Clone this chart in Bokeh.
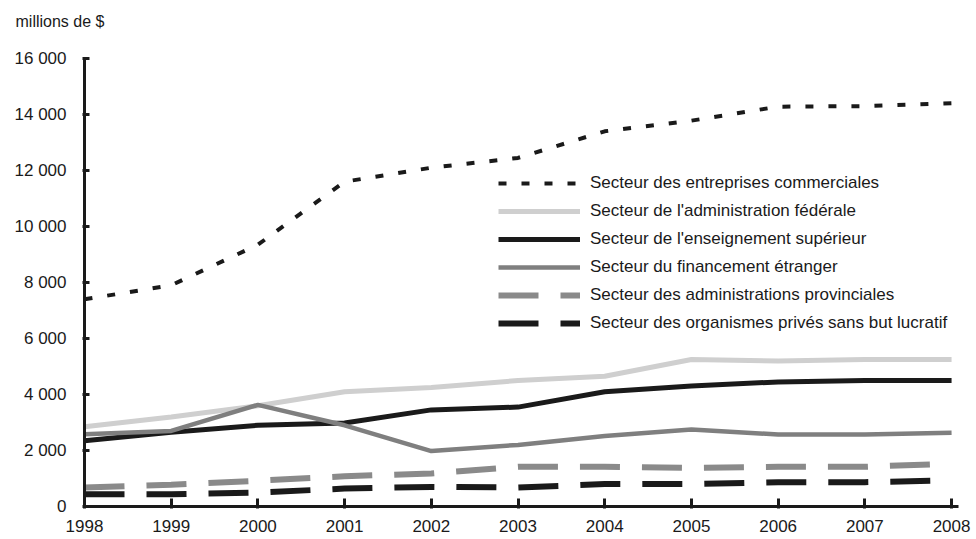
from bokeh.plotting import figure
from bokeh.models import Range1d, FixedTicker, Legend, LegendItem
from bokeh.embed import file_html
from bokeh.resources import INLINE

years = [1998, 1999, 2000, 2001, 2002, 2003, 2004, 2005, 2006, 2007, 2008]
business = [7400, 7900, 9350, 11600, 12100, 12450, 13400, 13780, 14280, 14300, 14400]
federal = [2850, 3200, 3600, 4100, 4250, 4500, 4650, 5250, 5200, 5250, 5250]
higher_ed = [2350, 2650, 2900, 2980, 3450, 3550, 4100, 4300, 4450, 4500, 4500]
foreign = [2580, 2700, 3630, 2900, 1980, 2200, 2520, 2750, 2570, 2570, 2630]
provincial = [680, 780, 920, 1080, 1180, 1420, 1420, 1380, 1420, 1420, 1530]
nonprofit = [440, 440, 500, 640, 700, 680, 800, 800, 870, 870, 930]

series_names = [
    "Secteur des entreprises commerciales",
    "Secteur de l'administration fédérale",
    "Secteur de l'enseignement supérieur",
    "Secteur du financement étranger",
    "Secteur des administrations provinciales",
    "Secteur des organismes privés sans but lucratif",
]

y_ticks = [0, 2000, 4000, 6000, 8000, 10000, 12000, 14000, 16000]
y_tick_labels = ["0", "2 000", "4 000", "6 000", "8 000", "10 000", "12 000", "14 000", "16 000"]
x_tick_labels = [str(y) for y in years]
unit_label = "millions de $"

FONT = "Liberation Sans"
FS = "17px"
BLACK = "#1a1a1a"

p = figure(width=976, height=539, output_backend="svg", toolbar_location=None,
           title=unit_label + "\n",
           x_range=Range1d(1998, 2008.08), y_range=Range1d(0, 16000),
           min_border_left=84, min_border_right=18, min_border_top=58, min_border_bottom=33)
p.outline_line_color = None
p.xgrid.visible = False
p.ygrid.visible = False
p.background_fill_color = "white"
p.border_fill_color = "white"

p.title.align = "left"
p.title.offset = -69
p.title.standoff = 12
p.title.text_line_height = 1.3
p.title.text_font = FONT
p.title.text_font_size = "16px"
p.title.text_font_style = "normal"
p.title.text_color = BLACK

styles = [
    (business, BLACK, 4, "8 15"),
    (federal, "#cfcfcf", 5, "solid"),
    (higher_ed, BLACK, 5, "solid"),
    (foreign, "#7f7f7f", 4.5, "solid"),
    (provincial, "#8a8a8a", 6, "40 22"),
    (nonprofit, BLACK, 6, "40 22"),
]
renderers = []
for vals, col, lw, dash in styles:
    r = p.line(years, vals, line_color=col, line_width=lw, line_dash=dash)
    renderers.append(r)

legend = Legend(items=[LegendItem(label=n, renderers=[r]) for n, r in zip(series_names, renderers)],
                location=(414, 173), glyph_width=82, glyph_height=20, label_height=20,
                label_standoff=10, spacing=8, padding=0, margin=0,
                border_line_color=None, background_fill_alpha=0,
                label_text_font=FONT, label_text_font_size=FS, label_text_color=BLACK)
p.add_layout(legend, "center")

for ax in (p.xaxis[0], p.yaxis[0]):
    ax.axis_line_width = 3
    ax.axis_line_color = BLACK
    ax.major_tick_line_width = 3
    ax.major_tick_line_color = BLACK
    ax.minor_tick_line_color = None
    ax.major_label_text_font = FONT
    ax.major_label_text_font_size = FS
    ax.major_label_text_color = BLACK

p.xaxis.ticker = FixedTicker(ticks=years)
p.xaxis.major_label_overrides = {y: l for y, l in zip(years, x_tick_labels)}
p.xaxis.major_tick_in = 8
p.xaxis.major_tick_out = 2
p.xaxis.major_label_standoff = 11

p.yaxis.ticker = FixedTicker(ticks=y_ticks)
p.yaxis.major_label_overrides = {t: l for t, l in zip(y_ticks, y_tick_labels)}
p.yaxis.major_tick_in = 5
p.yaxis.major_tick_out = 2
p.yaxis.major_label_standoff = 16

open("out.html", "w").write(file_html(p, INLINE))
